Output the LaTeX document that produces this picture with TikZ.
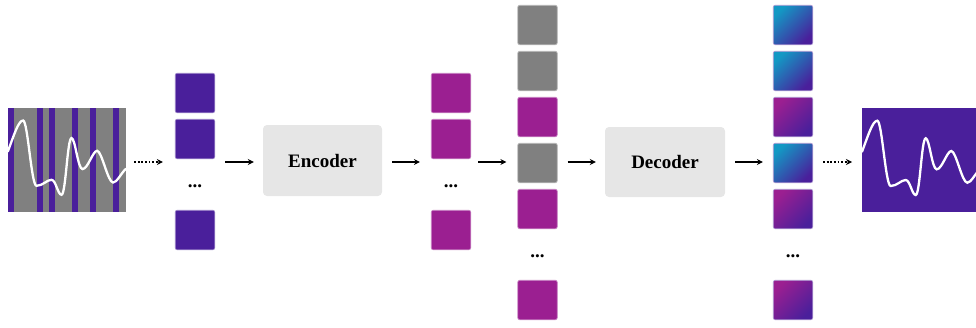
\documentclass[tikz,border=0pt]{standalone}
\usepackage{fontspec}
\setmainfont{Liberation Serif}
\usetikzlibrary{arrows.meta}

\definecolor{tokpurple}{HTML}{4A1F9B}
\definecolor{tokmagenta}{HTML}{9B1F91}
\definecolor{tokgray}{HTML}{808080}
\definecolor{tokteal}{HTML}{1398C4}
\definecolor{blockbg}{HTML}{E6E6E6}

% white signal trace, drawn relative to the upper-left corner of its panel
\newcommand\signaltrace{%
  \draw[white, line width=2.3pt, line cap=round]
    (0,43.7) .. controls (6,28) and (10.5,12.7) .. (15.3,12.7)
    .. controls (20,12.7) and (23.5,78) .. (28.7,78)
    .. controls (35,78) and (39,72) .. (43.7,72)
    .. controls (48,72) and (50,87) .. (53.7,87)
    .. controls (58,87) and (59.5,30.3) .. (63.7,30.3)
    .. controls (67.5,30.3) and (70,61.3) .. (74.7,61.3)
    .. controls (80,61.3) and (85,43) .. (89.3,43)
    .. controls (94,43) and (100,74.7) .. (105.3,74.7)
    .. controls (109,74.7) and (113,66) .. (118,61);}

\begin{document}
\begin{tikzpicture}[x=1pt, y=-1pt,
  tile/.style={rectangle, rounded corners=2pt, minimum width=39.5pt,
    minimum height=39.5pt, inner sep=0pt, line width=0.7pt},
  ptile/.style={tile, fill=tokpurple, draw=tokpurple!55!white},
  mtile/.style={tile, fill=tokmagenta, draw=tokmagenta!55!white},
  gtile/.style={tile, fill=tokgray, draw=tokgray!55!white},
  tealtile/.style={tile, shading=axis, top color=tokteal, bottom color=tokpurple,
    shading angle=45, draw=tokpurple!45!white},
  rosetile/.style={tile, shading=axis, top color=tokmagenta, bottom color=tokpurple,
    shading angle=45, draw=tokpurple!45!white},
  block/.style={rectangle, rounded corners=4pt, fill=blockbg, inner sep=0pt,
    font=\fontsize{19}{20}\selectfont\bfseries},
  panel/.style={rectangle, inner sep=0pt, minimum width=118pt, minimum height=104pt},
  gap/.style={anchor=base, inner sep=0pt, font=\fontsize{19}{20}\selectfont\bfseries},
  arr/.style={-{Stealth[length=6pt,width=6pt]}, line width=1.8pt},
  dotarr/.style={-{Stealth[length=6pt,width=6pt]}, line width=1.8pt,
    dash pattern=on 1.8pt off 1.8pt}]

\useasboundingbox (0,0) rectangle (976,327);
\clip (0,0) rectangle (976,327);
\coordinate (row) at (0,162);

% masked input signal
\node[panel, fill=tokgray] (inwave) at (67,160) {};
\foreach \sx in {0,29,41,64,82,105}
  \fill[tokpurple] ([xshift=\sx pt]inwave.north west) rectangle ++(6,104);
\begin{scope}[shift={(inwave.north west)}]
  \clip (0,0) rectangle (118,104);
  \signaltrace
\end{scope}

% visible patches
\node[ptile] (in1) at (195,93) {};
\node[ptile] (in2) at (195,139) {};
\node[gap] (indots) at (195,187.5) {...};
\node[ptile] (in3) at (195,230) {};

\node[block, minimum width=119pt, minimum height=71pt] (enc) at (322.5,160.5) {Encoder};

% encoded patches
\node[mtile] (mid1) at (451,93) {};
\node[mtile] (mid2) at (451,139) {};
\node[gap] (middots) at (451,187.5) {...};
\node[mtile] (mid3) at (451,230) {};

% full sequence with mask tokens
\node[gtile] (seq1) at (537.5,25) {};
\node[gtile] (seq2) at (537.5,71) {};
\node[mtile] (seq3) at (537.5,117) {};
\node[gtile] (seq4) at (537.5,163) {};
\node[mtile] (seq5) at (537.5,209) {};
\node[gap] (seqdots) at (537.5,257.5) {...};
\node[mtile] (seq6) at (537.5,300) {};

\node[block, minimum width=120pt, minimum height=70pt] (dec) at (665,162) {Decoder};

% reconstructed patches
\node[tealtile] (out1) at (793,25) {};
\node[tealtile] (out2) at (793,71) {};
\node[rosetile] (out3) at (793,117) {};
\node[tealtile] (out4) at (793,163) {};
\node[rosetile] (out5) at (793,209) {};
\node[gap] (outdots) at (793,257.5) {...};
\node[rosetile] (out6) at (793,300) {};

% reconstructed signal
\node[panel, fill=tokpurple, anchor=north west] (outwave) at (862,108) {};
\begin{scope}[shift={(outwave.north west)}]
  \clip (0,0) rectangle (118,104);
  \signaltrace
\end{scope}

% connectors
\draw[dotarr] ([xshift=8pt]inwave.east |- row) -- ([xshift=-12pt]in2.west |- row);
\draw[arr] ([xshift=10pt]in2.east |- row) -- ([xshift=-9pt]enc.west |- row);
\draw[arr] ([xshift=10pt]enc.east |- row) -- ([xshift=-11pt]mid2.west |- row);
\draw[arr] ([xshift=7pt]mid2.east |- row) -- ([xshift=-11pt]seq4.west |- row);
\draw[arr] ([xshift=10pt]seq4.east |- row) -- ([xshift=-9pt]dec.west |- row);
\draw[arr] ([xshift=10pt]dec.east |- row) -- ([xshift=-10pt]out4.west |- row);
\draw[dotarr] ([xshift=10pt]out4.east |- row) -- ([xshift=-10pt]outwave.west |- row);
\end{tikzpicture}
\end{document}
